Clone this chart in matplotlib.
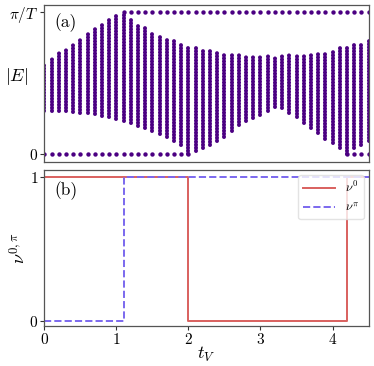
import numpy as np
import matplotlib
matplotlib.use("Agg")
import matplotlib.pyplot as plt

plt.rcParams['font.family'] = 'cmr10'
plt.rcParams['mathtext.fontset'] = 'cm'
plt.rcParams['axes.formatter.use_mathtext'] = True

# ---- data (energies in units of pi/T) ----
t_V = [round(0.1 * k, 1) for k in range(46)]
band_top = [0.642, 0.680, 0.712, 0.745, 0.778, 0.812, 0.847, 0.879, 0.912, 0.947,
            0.977, 0.975, 0.942, 0.912, 0.884, 0.858, 0.837, 0.813, 0.795, 0.778,
            0.762, 0.749, 0.736, 0.724, 0.715, 0.707, 0.701, 0.696, 0.693, 0.691,
            0.689, 0.687, 0.687, 0.689, 0.693, 0.696, 0.700, 0.705, 0.712, 0.719,
            0.731, 0.743, 0.755, 0.766, 0.783, 0.797]
band_bottom = [0.306, 0.306, 0.304, 0.302, 0.299, 0.292, 0.288, 0.283, 0.272, 0.262,
               0.245, 0.234, 0.219, 0.198, 0.181, 0.160, 0.142, 0.121, 0.090, 0.065,
               0.000, 0.023, 0.042, 0.065, 0.093, 0.123, 0.165, 0.205, 0.234, 0.255,
               0.276, 0.304, 0.332, 0.323, 0.292, 0.259, 0.219, 0.184, 0.146, 0.107,
               0.077, 0.042, 0.000, 0.042, 0.065, 0.093]
zero_mode_t = [t for t in t_V if t <= 2.0 or t >= 4.2]
pi_mode_t = [t for t in t_V if t >= 1.1]

step_t = [0.0, 1.1, 2.0, 4.2, 4.5]
nu0 = [1, 1, 0, 1, 1]
nupi = [0, 1, 1, 1, 1]

purple = '#4b0082'
red = '#d9605e'
blue = '#7b68ee'

fig = plt.figure(figsize=(3.74, 3.66), dpi=100)
ax1 = fig.add_axes([0.1185, 0.5574, 0.867, 0.429])
ax2 = fig.add_axes([0.1185, 0.1093, 0.867, 0.426])

# ---- panel (a) ----
lc = ax1.vlines(t_V, band_bottom, band_top, colors=purple, linewidth=2.9,
                linestyles=[(0, (0.05, 0.7))])
lc.set_capstyle('round')
ax1.scatter(zero_mode_t, [0] * len(zero_mode_t), s=10, color=purple, linewidths=0)
ax1.scatter(pi_mode_t, [1] * len(pi_mode_t), s=10, color=purple, linewidths=0)
ax1.set_xlim(0, 4.5)
ax1.set_ylim(-0.054, 1.047)
ax1.set_xticks([])
ax1.set_yticks([0, 1])
ax1.set_yticklabels(['$0$', r'$\pi/T$'], fontsize=11)
ax1.set_ylabel('$|E|$', rotation=0, fontsize=13)
ax1.yaxis.set_label_coords(-0.084, 0.48)
ax1.text(0.03, 0.95, '(a)', transform=ax1.transAxes, fontsize=12.5, va='top', ha='left')

# ---- panel (b) ----
ax2.plot(step_t, nu0, drawstyle='steps-post', color=red, lw=1.4, label=r'$\nu^0$')
ax2.plot(step_t, nupi, drawstyle='steps-post', color=blue, lw=1.4, ls='--', label=r'$\nu^\pi$')
ax2.set_xlim(0, 4.5)
ax2.set_ylim(-0.035, 1.05)
ax2.set_xticks([0, 1, 2, 3, 4])
ax2.set_xticklabels(['$0$', '$1$', '$2$', '$3$', '$4$'], fontsize=11)
ax2.set_yticks([0, 1])
ax2.set_yticklabels(['$0$', '$1$'], fontsize=11)
ax2.set_xlabel('$t_V$', fontsize=13)
ax2.xaxis.set_label_coords(0.5, -0.12)
ax2.set_ylabel(r'$\nu^{0,\pi}$', fontsize=13)
ax2.yaxis.set_label_coords(-0.05, 0.5)
ax2.text(0.03, 0.93, '(b)', transform=ax2.transAxes, fontsize=12.5, va='top', ha='left')
leg = ax2.legend(loc='upper right', fontsize=9, frameon=True, fancybox=True,
                 framealpha=0.8, handlelength=2.5, borderaxespad=0.4)
leg.get_frame().set_edgecolor('#dddddd')

for ax in (ax1, ax2):
    for sp in ax.spines.values():
        sp.set_color('#555555')
        sp.set_linewidth(0.9)
    ax.tick_params(direction='out', length=3, width=0.8, pad=1.5, colors='#333333')
    ax.tick_params(labelcolor='black')

fig.savefig('out.png', dpi=100)
